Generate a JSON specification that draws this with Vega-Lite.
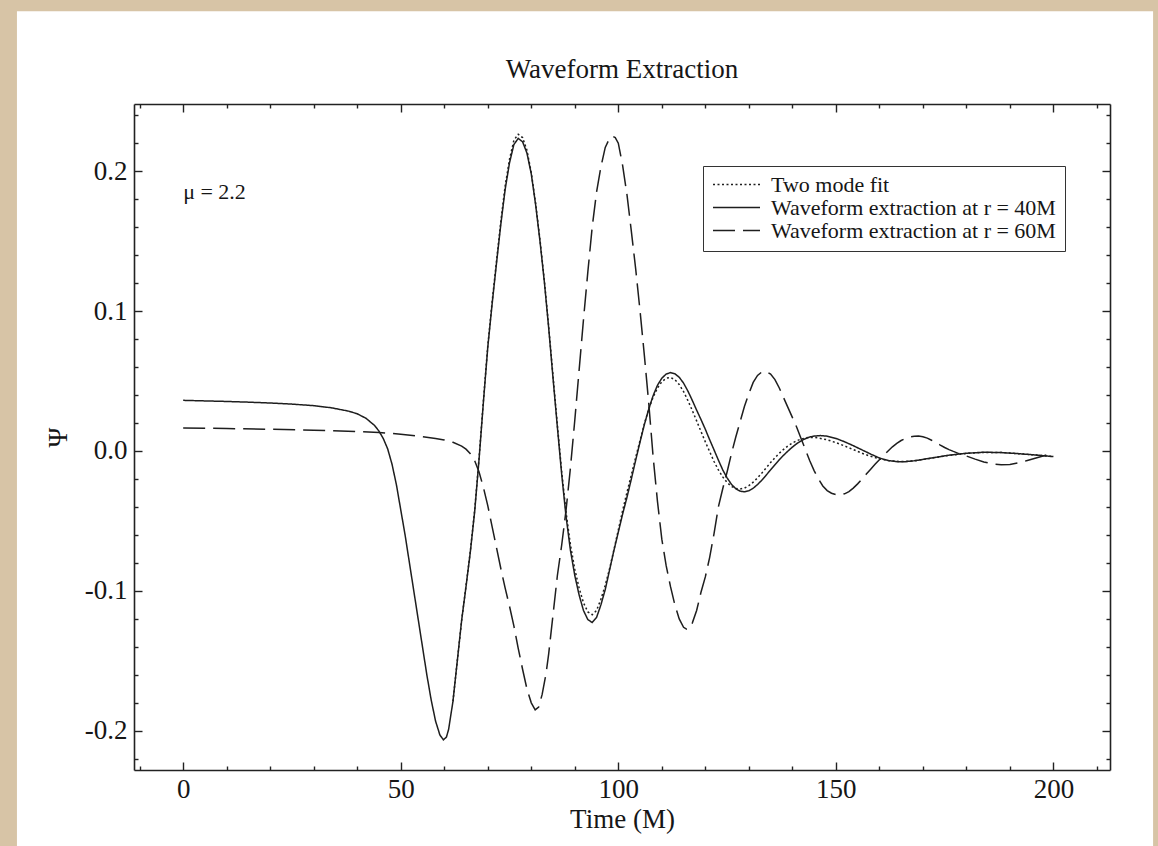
{
  "$schema": "https://vega.github.io/schema/vega-lite/v6.json",
  "width": 976,
  "height": 666,
  "autosize": {"type": "none"},
  "padding": {"left": 134, "top": 104, "right": 48, "bottom": 76},
  "background": "#d7c4a6",
  "title": {"text": "Waveform Extraction", "font": "Liberation Serif", "fontSize": 27, "fontWeight": "normal", "color": "#161616", "anchor": "middle", "frame": "group", "baseline": "alphabetic", "offset": -94},
  "config": {
    "view": {"stroke": null},
    "axis": {"zindex": 1, "grid": false, "domainColor": "#222222", "domainWidth": 1.6, "tickColor": "#222222", "tickWidth": 1.4, "labelFont": "Liberation Serif", "labelFontSize": 27, "labelColor": "#161616", "titleFont": "Liberation Serif", "titleFontSize": 27, "titleFontWeight": "normal", "titleColor": "#161616"},
    "legend": {"orient": "none", "legendX": 569, "legendY": 62, "symbolType": "stroke", "symbolSize": 2209, "symbolStrokeWidth": 1.5, "symbolStrokeColor": "#1e1e1e", "labelFont": "Liberation Serif", "labelFontSize": 22, "labelColor": "#161616", "labelOffset": 10, "labelLimit": 500, "padding": 9, "strokeColor": "#333333", "fillColor": "white", "rowPadding": 0, "clipHeight": 19}
  },
  "datasets": {
    "waves": [
      {"series": "Waveform extraction at r = 40M", "t": 0, "psi": 0.0362},
      {"series": "Waveform extraction at r = 40M", "t": 5, "psi": 0.0358},
      {"series": "Waveform extraction at r = 40M", "t": 10, "psi": 0.0354},
      {"series": "Waveform extraction at r = 40M", "t": 15, "psi": 0.0349},
      {"series": "Waveform extraction at r = 40M", "t": 20, "psi": 0.0343},
      {"series": "Waveform extraction at r = 40M", "t": 25, "psi": 0.0335},
      {"series": "Waveform extraction at r = 40M", "t": 30, "psi": 0.0324},
      {"series": "Waveform extraction at r = 40M", "t": 34, "psi": 0.0309},
      {"series": "Waveform extraction at r = 40M", "t": 38, "psi": 0.0285},
      {"series": "Waveform extraction at r = 40M", "t": 40, "psi": 0.0266},
      {"series": "Waveform extraction at r = 40M", "t": 42, "psi": 0.0234},
      {"series": "Waveform extraction at r = 40M", "t": 44, "psi": 0.0182},
      {"series": "Waveform extraction at r = 40M", "t": 45, "psi": 0.0142},
      {"series": "Waveform extraction at r = 40M", "t": 46, "psi": 0.0088},
      {"series": "Waveform extraction at r = 40M", "t": 47, "psi": 0.0015},
      {"series": "Waveform extraction at r = 40M", "t": 48, "psi": -0.0095},
      {"series": "Waveform extraction at r = 40M", "t": 49, "psi": -0.024},
      {"series": "Waveform extraction at r = 40M", "t": 50, "psi": -0.042},
      {"series": "Waveform extraction at r = 40M", "t": 51, "psi": -0.06},
      {"series": "Waveform extraction at r = 40M", "t": 52, "psi": -0.08},
      {"series": "Waveform extraction at r = 40M", "t": 53, "psi": -0.1},
      {"series": "Waveform extraction at r = 40M", "t": 54, "psi": -0.12},
      {"series": "Waveform extraction at r = 40M", "t": 55, "psi": -0.14},
      {"series": "Waveform extraction at r = 40M", "t": 56, "psi": -0.16},
      {"series": "Waveform extraction at r = 40M", "t": 57, "psi": -0.178},
      {"series": "Waveform extraction at r = 40M", "t": 58, "psi": -0.193},
      {"series": "Waveform extraction at r = 40M", "t": 59, "psi": -0.203},
      {"series": "Waveform extraction at r = 40M", "t": 59.8, "psi": -0.2064},
      {"series": "Waveform extraction at r = 40M", "t": 60.5, "psi": -0.2045},
      {"series": "Waveform extraction at r = 40M", "t": 61, "psi": -0.199},
      {"series": "Waveform extraction at r = 40M", "t": 62, "psi": -0.179},
      {"series": "Waveform extraction at r = 40M", "t": 63, "psi": -0.15},
      {"series": "Waveform extraction at r = 40M", "t": 64, "psi": -0.121},
      {"series": "Waveform extraction at r = 40M", "t": 65, "psi": -0.097},
      {"series": "Waveform extraction at r = 40M", "t": 66, "psi": -0.072},
      {"series": "Waveform extraction at r = 40M", "t": 67, "psi": -0.043},
      {"series": "Waveform extraction at r = 40M", "t": 68, "psi": -0.006},
      {"series": "Waveform extraction at r = 40M", "t": 69, "psi": 0.035},
      {"series": "Waveform extraction at r = 40M", "t": 70, "psi": 0.074},
      {"series": "Waveform extraction at r = 40M", "t": 71, "psi": 0.105},
      {"series": "Waveform extraction at r = 40M", "t": 72, "psi": 0.134},
      {"series": "Waveform extraction at r = 40M", "t": 73, "psi": 0.162},
      {"series": "Waveform extraction at r = 40M", "t": 74, "psi": 0.187},
      {"series": "Waveform extraction at r = 40M", "t": 75, "psi": 0.206},
      {"series": "Waveform extraction at r = 40M", "t": 76, "psi": 0.219},
      {"series": "Waveform extraction at r = 40M", "t": 77, "psi": 0.2234},
      {"series": "Waveform extraction at r = 40M", "t": 78, "psi": 0.221},
      {"series": "Waveform extraction at r = 40M", "t": 79, "psi": 0.213},
      {"series": "Waveform extraction at r = 40M", "t": 80, "psi": 0.198},
      {"series": "Waveform extraction at r = 40M", "t": 81, "psi": 0.176},
      {"series": "Waveform extraction at r = 40M", "t": 82, "psi": 0.15},
      {"series": "Waveform extraction at r = 40M", "t": 83, "psi": 0.121},
      {"series": "Waveform extraction at r = 40M", "t": 84, "psi": 0.088},
      {"series": "Waveform extraction at r = 40M", "t": 85, "psi": 0.052},
      {"series": "Waveform extraction at r = 40M", "t": 86, "psi": 0.017},
      {"series": "Waveform extraction at r = 40M", "t": 87, "psi": -0.017},
      {"series": "Waveform extraction at r = 40M", "t": 88, "psi": -0.047},
      {"series": "Waveform extraction at r = 40M", "t": 89, "psi": -0.071},
      {"series": "Waveform extraction at r = 40M", "t": 90, "psi": -0.089},
      {"series": "Waveform extraction at r = 40M", "t": 91, "psi": -0.103},
      {"series": "Waveform extraction at r = 40M", "t": 92, "psi": -0.114},
      {"series": "Waveform extraction at r = 40M", "t": 93, "psi": -0.1205},
      {"series": "Waveform extraction at r = 40M", "t": 94, "psi": -0.1226},
      {"series": "Waveform extraction at r = 40M", "t": 95, "psi": -0.119},
      {"series": "Waveform extraction at r = 40M", "t": 96, "psi": -0.11},
      {"series": "Waveform extraction at r = 40M", "t": 97, "psi": -0.099},
      {"series": "Waveform extraction at r = 40M", "t": 98, "psi": -0.085},
      {"series": "Waveform extraction at r = 40M", "t": 99, "psi": -0.071},
      {"series": "Waveform extraction at r = 40M", "t": 100, "psi": -0.058},
      {"series": "Waveform extraction at r = 40M", "t": 101, "psi": -0.045},
      {"series": "Waveform extraction at r = 40M", "t": 102, "psi": -0.033},
      {"series": "Waveform extraction at r = 40M", "t": 103, "psi": -0.02},
      {"series": "Waveform extraction at r = 40M", "t": 104, "psi": -0.0065},
      {"series": "Waveform extraction at r = 40M", "t": 105, "psi": 0.0065},
      {"series": "Waveform extraction at r = 40M", "t": 106, "psi": 0.019},
      {"series": "Waveform extraction at r = 40M", "t": 107, "psi": 0.03},
      {"series": "Waveform extraction at r = 40M", "t": 108, "psi": 0.0395},
      {"series": "Waveform extraction at r = 40M", "t": 109, "psi": 0.047},
      {"series": "Waveform extraction at r = 40M", "t": 110, "psi": 0.052},
      {"series": "Waveform extraction at r = 40M", "t": 111, "psi": 0.055},
      {"series": "Waveform extraction at r = 40M", "t": 112, "psi": 0.056},
      {"series": "Waveform extraction at r = 40M", "t": 113, "psi": 0.0552},
      {"series": "Waveform extraction at r = 40M", "t": 114, "psi": 0.0527},
      {"series": "Waveform extraction at r = 40M", "t": 115, "psi": 0.0485},
      {"series": "Waveform extraction at r = 40M", "t": 116, "psi": 0.0428},
      {"series": "Waveform extraction at r = 40M", "t": 117, "psi": 0.0362},
      {"series": "Waveform extraction at r = 40M", "t": 118, "psi": 0.0292},
      {"series": "Waveform extraction at r = 40M", "t": 119, "psi": 0.0225},
      {"series": "Waveform extraction at r = 40M", "t": 120, "psi": 0.0155},
      {"series": "Waveform extraction at r = 40M", "t": 121, "psi": 0.008},
      {"series": "Waveform extraction at r = 40M", "t": 122, "psi": 0.0008},
      {"series": "Waveform extraction at r = 40M", "t": 123, "psi": -0.0065},
      {"series": "Waveform extraction at r = 40M", "t": 124, "psi": -0.0135},
      {"series": "Waveform extraction at r = 40M", "t": 125, "psi": -0.0192},
      {"series": "Waveform extraction at r = 40M", "t": 126, "psi": -0.0238},
      {"series": "Waveform extraction at r = 40M", "t": 127, "psi": -0.027},
      {"series": "Waveform extraction at r = 40M", "t": 128, "psi": -0.0287},
      {"series": "Waveform extraction at r = 40M", "t": 129, "psi": -0.0292},
      {"series": "Waveform extraction at r = 40M", "t": 130, "psi": -0.0284},
      {"series": "Waveform extraction at r = 40M", "t": 131, "psi": -0.0266},
      {"series": "Waveform extraction at r = 40M", "t": 132, "psi": -0.024},
      {"series": "Waveform extraction at r = 40M", "t": 133, "psi": -0.0208},
      {"series": "Waveform extraction at r = 40M", "t": 134, "psi": -0.0172},
      {"series": "Waveform extraction at r = 40M", "t": 135, "psi": -0.0135},
      {"series": "Waveform extraction at r = 40M", "t": 136, "psi": -0.0098},
      {"series": "Waveform extraction at r = 40M", "t": 137, "psi": -0.0062},
      {"series": "Waveform extraction at r = 40M", "t": 138, "psi": -0.003},
      {"series": "Waveform extraction at r = 40M", "t": 139, "psi": 0.0},
      {"series": "Waveform extraction at r = 40M", "t": 140, "psi": 0.0028},
      {"series": "Waveform extraction at r = 40M", "t": 141, "psi": 0.0052},
      {"series": "Waveform extraction at r = 40M", "t": 142, "psi": 0.0072},
      {"series": "Waveform extraction at r = 40M", "t": 143, "psi": 0.0088},
      {"series": "Waveform extraction at r = 40M", "t": 144, "psi": 0.01},
      {"series": "Waveform extraction at r = 40M", "t": 145, "psi": 0.0107},
      {"series": "Waveform extraction at r = 40M", "t": 146.5, "psi": 0.011},
      {"series": "Waveform extraction at r = 40M", "t": 148, "psi": 0.0106},
      {"series": "Waveform extraction at r = 40M", "t": 150, "psi": 0.009},
      {"series": "Waveform extraction at r = 40M", "t": 152, "psi": 0.0066},
      {"series": "Waveform extraction at r = 40M", "t": 154, "psi": 0.0038},
      {"series": "Waveform extraction at r = 40M", "t": 156, "psi": 0.0008},
      {"series": "Waveform extraction at r = 40M", "t": 158, "psi": -0.0022},
      {"series": "Waveform extraction at r = 40M", "t": 160, "psi": -0.005},
      {"series": "Waveform extraction at r = 40M", "t": 162, "psi": -0.0068},
      {"series": "Waveform extraction at r = 40M", "t": 164, "psi": -0.0076},
      {"series": "Waveform extraction at r = 40M", "t": 166, "psi": -0.0076},
      {"series": "Waveform extraction at r = 40M", "t": 168, "psi": -0.007},
      {"series": "Waveform extraction at r = 40M", "t": 170, "psi": -0.006},
      {"series": "Waveform extraction at r = 40M", "t": 173, "psi": -0.0045},
      {"series": "Waveform extraction at r = 40M", "t": 176, "psi": -0.003},
      {"series": "Waveform extraction at r = 40M", "t": 180, "psi": -0.0016},
      {"series": "Waveform extraction at r = 40M", "t": 184, "psi": -0.0009},
      {"series": "Waveform extraction at r = 40M", "t": 188, "psi": -0.0011},
      {"series": "Waveform extraction at r = 40M", "t": 192, "psi": -0.0019},
      {"series": "Waveform extraction at r = 40M", "t": 196, "psi": -0.0029},
      {"series": "Waveform extraction at r = 40M", "t": 200, "psi": -0.004},

      {"series": "Waveform extraction at r = 60M", "t": 0, "psi": 0.0165},
      {"series": "Waveform extraction at r = 60M", "t": 10, "psi": 0.0161},
      {"series": "Waveform extraction at r = 60M", "t": 20, "psi": 0.0155},
      {"series": "Waveform extraction at r = 60M", "t": 30, "psi": 0.0148},
      {"series": "Waveform extraction at r = 60M", "t": 40, "psi": 0.0139},
      {"series": "Waveform extraction at r = 60M", "t": 45, "psi": 0.0132},
      {"series": "Waveform extraction at r = 60M", "t": 50, "psi": 0.012},
      {"series": "Waveform extraction at r = 60M", "t": 55, "psi": 0.0102},
      {"series": "Waveform extraction at r = 60M", "t": 58, "psi": 0.0089},
      {"series": "Waveform extraction at r = 60M", "t": 60, "psi": 0.0079},
      {"series": "Waveform extraction at r = 60M", "t": 62, "psi": 0.0062},
      {"series": "Waveform extraction at r = 60M", "t": 64, "psi": 0.0035},
      {"series": "Waveform extraction at r = 60M", "t": 65, "psi": 0.0013},
      {"series": "Waveform extraction at r = 60M", "t": 66, "psi": -0.002},
      {"series": "Waveform extraction at r = 60M", "t": 67, "psi": -0.007},
      {"series": "Waveform extraction at r = 60M", "t": 68, "psi": -0.015},
      {"series": "Waveform extraction at r = 60M", "t": 69, "psi": -0.026},
      {"series": "Waveform extraction at r = 60M", "t": 70, "psi": -0.039},
      {"series": "Waveform extraction at r = 60M", "t": 71, "psi": -0.054},
      {"series": "Waveform extraction at r = 60M", "t": 72, "psi": -0.069},
      {"series": "Waveform extraction at r = 60M", "t": 73, "psi": -0.084},
      {"series": "Waveform extraction at r = 60M", "t": 74, "psi": -0.098},
      {"series": "Waveform extraction at r = 60M", "t": 75, "psi": -0.111},
      {"series": "Waveform extraction at r = 60M", "t": 76, "psi": -0.125},
      {"series": "Waveform extraction at r = 60M", "t": 77, "psi": -0.141},
      {"series": "Waveform extraction at r = 60M", "t": 78, "psi": -0.156},
      {"series": "Waveform extraction at r = 60M", "t": 79, "psi": -0.17},
      {"series": "Waveform extraction at r = 60M", "t": 80, "psi": -0.18},
      {"series": "Waveform extraction at r = 60M", "t": 80.9, "psi": -0.185},
      {"series": "Waveform extraction at r = 60M", "t": 81.7, "psi": -0.183},
      {"series": "Waveform extraction at r = 60M", "t": 82.5, "psi": -0.174},
      {"series": "Waveform extraction at r = 60M", "t": 83.4, "psi": -0.159},
      {"series": "Waveform extraction at r = 60M", "t": 84, "psi": -0.145},
      {"series": "Waveform extraction at r = 60M", "t": 85, "psi": -0.117},
      {"series": "Waveform extraction at r = 60M", "t": 86, "psi": -0.089},
      {"series": "Waveform extraction at r = 60M", "t": 87, "psi": -0.067},
      {"series": "Waveform extraction at r = 60M", "t": 88, "psi": -0.042},
      {"series": "Waveform extraction at r = 60M", "t": 89, "psi": -0.012},
      {"series": "Waveform extraction at r = 60M", "t": 90, "psi": 0.022},
      {"series": "Waveform extraction at r = 60M", "t": 91, "psi": 0.058},
      {"series": "Waveform extraction at r = 60M", "t": 92, "psi": 0.094},
      {"series": "Waveform extraction at r = 60M", "t": 93, "psi": 0.128},
      {"series": "Waveform extraction at r = 60M", "t": 94, "psi": 0.16},
      {"series": "Waveform extraction at r = 60M", "t": 95, "psi": 0.185},
      {"series": "Waveform extraction at r = 60M", "t": 96, "psi": 0.203},
      {"series": "Waveform extraction at r = 60M", "t": 97, "psi": 0.217},
      {"series": "Waveform extraction at r = 60M", "t": 98, "psi": 0.2235},
      {"series": "Waveform extraction at r = 60M", "t": 98.6, "psi": 0.225},
      {"series": "Waveform extraction at r = 60M", "t": 99.3, "psi": 0.224},
      {"series": "Waveform extraction at r = 60M", "t": 100, "psi": 0.22},
      {"series": "Waveform extraction at r = 60M", "t": 101, "psi": 0.204},
      {"series": "Waveform extraction at r = 60M", "t": 102, "psi": 0.183},
      {"series": "Waveform extraction at r = 60M", "t": 103, "psi": 0.157},
      {"series": "Waveform extraction at r = 60M", "t": 104, "psi": 0.13},
      {"series": "Waveform extraction at r = 60M", "t": 105, "psi": 0.1},
      {"series": "Waveform extraction at r = 60M", "t": 106, "psi": 0.068},
      {"series": "Waveform extraction at r = 60M", "t": 107, "psi": 0.034},
      {"series": "Waveform extraction at r = 60M", "t": 108, "psi": -0.004},
      {"series": "Waveform extraction at r = 60M", "t": 109, "psi": -0.036},
      {"series": "Waveform extraction at r = 60M", "t": 110, "psi": -0.063},
      {"series": "Waveform extraction at r = 60M", "t": 111, "psi": -0.082},
      {"series": "Waveform extraction at r = 60M", "t": 112, "psi": -0.097},
      {"series": "Waveform extraction at r = 60M", "t": 113, "psi": -0.11},
      {"series": "Waveform extraction at r = 60M", "t": 114, "psi": -0.12},
      {"series": "Waveform extraction at r = 60M", "t": 115, "psi": -0.126},
      {"series": "Waveform extraction at r = 60M", "t": 115.7, "psi": -0.1274},
      {"series": "Waveform extraction at r = 60M", "t": 116.5, "psi": -0.126},
      {"series": "Waveform extraction at r = 60M", "t": 117, "psi": -0.123},
      {"series": "Waveform extraction at r = 60M", "t": 118, "psi": -0.114},
      {"series": "Waveform extraction at r = 60M", "t": 119, "psi": -0.101},
      {"series": "Waveform extraction at r = 60M", "t": 120, "psi": -0.09},
      {"series": "Waveform extraction at r = 60M", "t": 121, "psi": -0.076},
      {"series": "Waveform extraction at r = 60M", "t": 122, "psi": -0.059},
      {"series": "Waveform extraction at r = 60M", "t": 123, "psi": -0.04},
      {"series": "Waveform extraction at r = 60M", "t": 124, "psi": -0.027},
      {"series": "Waveform extraction at r = 60M", "t": 125, "psi": -0.015},
      {"series": "Waveform extraction at r = 60M", "t": 126, "psi": -0.002},
      {"series": "Waveform extraction at r = 60M", "t": 127, "psi": 0.01},
      {"series": "Waveform extraction at r = 60M", "t": 128, "psi": 0.021},
      {"series": "Waveform extraction at r = 60M", "t": 129, "psi": 0.032},
      {"series": "Waveform extraction at r = 60M", "t": 130, "psi": 0.041},
      {"series": "Waveform extraction at r = 60M", "t": 131, "psi": 0.049},
      {"series": "Waveform extraction at r = 60M", "t": 132, "psi": 0.054},
      {"series": "Waveform extraction at r = 60M", "t": 133, "psi": 0.0565},
      {"series": "Waveform extraction at r = 60M", "t": 133.8, "psi": 0.057},
      {"series": "Waveform extraction at r = 60M", "t": 135, "psi": 0.055},
      {"series": "Waveform extraction at r = 60M", "t": 136, "psi": 0.051},
      {"series": "Waveform extraction at r = 60M", "t": 137, "psi": 0.045},
      {"series": "Waveform extraction at r = 60M", "t": 138, "psi": 0.038},
      {"series": "Waveform extraction at r = 60M", "t": 139, "psi": 0.031},
      {"series": "Waveform extraction at r = 60M", "t": 140, "psi": 0.024},
      {"series": "Waveform extraction at r = 60M", "t": 141, "psi": 0.017},
      {"series": "Waveform extraction at r = 60M", "t": 142, "psi": 0.009},
      {"series": "Waveform extraction at r = 60M", "t": 143, "psi": 0.001},
      {"series": "Waveform extraction at r = 60M", "t": 144, "psi": -0.007},
      {"series": "Waveform extraction at r = 60M", "t": 145, "psi": -0.014},
      {"series": "Waveform extraction at r = 60M", "t": 146, "psi": -0.02},
      {"series": "Waveform extraction at r = 60M", "t": 147, "psi": -0.025},
      {"series": "Waveform extraction at r = 60M", "t": 148, "psi": -0.0283},
      {"series": "Waveform extraction at r = 60M", "t": 149, "psi": -0.0302},
      {"series": "Waveform extraction at r = 60M", "t": 150, "psi": -0.0312},
      {"series": "Waveform extraction at r = 60M", "t": 151, "psi": -0.0314},
      {"series": "Waveform extraction at r = 60M", "t": 152, "psi": -0.0306},
      {"series": "Waveform extraction at r = 60M", "t": 153, "psi": -0.029},
      {"series": "Waveform extraction at r = 60M", "t": 154, "psi": -0.0265},
      {"series": "Waveform extraction at r = 60M", "t": 155, "psi": -0.0235},
      {"series": "Waveform extraction at r = 60M", "t": 156, "psi": -0.02},
      {"series": "Waveform extraction at r = 60M", "t": 157, "psi": -0.0165},
      {"series": "Waveform extraction at r = 60M", "t": 158, "psi": -0.013},
      {"series": "Waveform extraction at r = 60M", "t": 159, "psi": -0.0095},
      {"series": "Waveform extraction at r = 60M", "t": 160, "psi": -0.0062},
      {"series": "Waveform extraction at r = 60M", "t": 161, "psi": -0.003},
      {"series": "Waveform extraction at r = 60M", "t": 162, "psi": 0.0},
      {"series": "Waveform extraction at r = 60M", "t": 163, "psi": 0.003},
      {"series": "Waveform extraction at r = 60M", "t": 164, "psi": 0.0055},
      {"series": "Waveform extraction at r = 60M", "t": 165, "psi": 0.0075},
      {"series": "Waveform extraction at r = 60M", "t": 166, "psi": 0.009},
      {"series": "Waveform extraction at r = 60M", "t": 167, "psi": 0.01},
      {"series": "Waveform extraction at r = 60M", "t": 168, "psi": 0.0106},
      {"series": "Waveform extraction at r = 60M", "t": 169, "psi": 0.0107},
      {"series": "Waveform extraction at r = 60M", "t": 170, "psi": 0.0102},
      {"series": "Waveform extraction at r = 60M", "t": 171, "psi": 0.0092},
      {"series": "Waveform extraction at r = 60M", "t": 172, "psi": 0.0077},
      {"series": "Waveform extraction at r = 60M", "t": 173, "psi": 0.006},
      {"series": "Waveform extraction at r = 60M", "t": 174, "psi": 0.0042},
      {"series": "Waveform extraction at r = 60M", "t": 175, "psi": 0.0025},
      {"series": "Waveform extraction at r = 60M", "t": 176, "psi": 0.001},
      {"series": "Waveform extraction at r = 60M", "t": 177, "psi": -0.0003},
      {"series": "Waveform extraction at r = 60M", "t": 178, "psi": -0.0015},
      {"series": "Waveform extraction at r = 60M", "t": 179, "psi": -0.0025},
      {"series": "Waveform extraction at r = 60M", "t": 180, "psi": -0.0036},
      {"series": "Waveform extraction at r = 60M", "t": 182, "psi": -0.0058},
      {"series": "Waveform extraction at r = 60M", "t": 184, "psi": -0.0078},
      {"series": "Waveform extraction at r = 60M", "t": 186, "psi": -0.0092},
      {"series": "Waveform extraction at r = 60M", "t": 188, "psi": -0.0099},
      {"series": "Waveform extraction at r = 60M", "t": 190, "psi": -0.0096},
      {"series": "Waveform extraction at r = 60M", "t": 192, "psi": -0.0085},
      {"series": "Waveform extraction at r = 60M", "t": 194, "psi": -0.0068},
      {"series": "Waveform extraction at r = 60M", "t": 196, "psi": -0.005},
      {"series": "Waveform extraction at r = 60M", "t": 198, "psi": -0.0032},
      {"series": "Waveform extraction at r = 60M", "t": 200, "psi": -0.0017},

      {"series": "Two mode fit", "t": 62, "psi": -0.179},
      {"series": "Two mode fit", "t": 63, "psi": -0.15},
      {"series": "Two mode fit", "t": 64, "psi": -0.121},
      {"series": "Two mode fit", "t": 65, "psi": -0.0965},
      {"series": "Two mode fit", "t": 66, "psi": -0.0715},
      {"series": "Two mode fit", "t": 67, "psi": -0.042},
      {"series": "Two mode fit", "t": 68, "psi": -0.005},
      {"series": "Two mode fit", "t": 69, "psi": 0.036},
      {"series": "Two mode fit", "t": 70, "psi": 0.075},
      {"series": "Two mode fit", "t": 71, "psi": 0.1065},
      {"series": "Two mode fit", "t": 72, "psi": 0.1355},
      {"series": "Two mode fit", "t": 73, "psi": 0.164},
      {"series": "Two mode fit", "t": 74, "psi": 0.1895},
      {"series": "Two mode fit", "t": 75, "psi": 0.2085},
      {"series": "Two mode fit", "t": 76, "psi": 0.222},
      {"series": "Two mode fit", "t": 77, "psi": 0.2264},
      {"series": "Two mode fit", "t": 78, "psi": 0.224},
      {"series": "Two mode fit", "t": 79, "psi": 0.215},
      {"series": "Two mode fit", "t": 80, "psi": 0.199},
      {"series": "Two mode fit", "t": 81, "psi": 0.177},
      {"series": "Two mode fit", "t": 82, "psi": 0.151},
      {"series": "Two mode fit", "t": 83, "psi": 0.122},
      {"series": "Two mode fit", "t": 84, "psi": 0.089},
      {"series": "Two mode fit", "t": 85, "psi": 0.0535},
      {"series": "Two mode fit", "t": 86, "psi": 0.0185},
      {"series": "Two mode fit", "t": 87, "psi": -0.015},
      {"series": "Two mode fit", "t": 88, "psi": -0.044},
      {"series": "Two mode fit", "t": 89, "psi": -0.067},
      {"series": "Two mode fit", "t": 90, "psi": -0.0845},
      {"series": "Two mode fit", "t": 91, "psi": -0.098},
      {"series": "Two mode fit", "t": 92, "psi": -0.1085},
      {"series": "Two mode fit", "t": 93, "psi": -0.115},
      {"series": "Two mode fit", "t": 94, "psi": -0.117},
      {"series": "Two mode fit", "t": 95, "psi": -0.114},
      {"series": "Two mode fit", "t": 96, "psi": -0.106},
      {"series": "Two mode fit", "t": 97, "psi": -0.096},
      {"series": "Two mode fit", "t": 98, "psi": -0.084},
      {"series": "Two mode fit", "t": 99, "psi": -0.0705},
      {"series": "Two mode fit", "t": 100, "psi": -0.0565},
      {"series": "Two mode fit", "t": 101, "psi": -0.0425},
      {"series": "Two mode fit", "t": 102, "psi": -0.0295},
      {"series": "Two mode fit", "t": 103, "psi": -0.017},
      {"series": "Two mode fit", "t": 104, "psi": -0.0045},
      {"series": "Two mode fit", "t": 105, "psi": 0.0075},
      {"series": "Two mode fit", "t": 106, "psi": 0.0195},
      {"series": "Two mode fit", "t": 107, "psi": 0.03},
      {"series": "Two mode fit", "t": 108, "psi": 0.0385},
      {"series": "Two mode fit", "t": 109, "psi": 0.045},
      {"series": "Two mode fit", "t": 110, "psi": 0.0495},
      {"series": "Two mode fit", "t": 111, "psi": 0.052},
      {"series": "Two mode fit", "t": 112, "psi": 0.0525},
      {"series": "Two mode fit", "t": 113, "psi": 0.051},
      {"series": "Two mode fit", "t": 114, "psi": 0.0475},
      {"series": "Two mode fit", "t": 115, "psi": 0.0425},
      {"series": "Two mode fit", "t": 116, "psi": 0.036},
      {"series": "Two mode fit", "t": 117, "psi": 0.029},
      {"series": "Two mode fit", "t": 118, "psi": 0.0215},
      {"series": "Two mode fit", "t": 119, "psi": 0.014},
      {"series": "Two mode fit", "t": 120, "psi": 0.0065},
      {"series": "Two mode fit", "t": 121, "psi": -0.0005},
      {"series": "Two mode fit", "t": 122, "psi": -0.0075},
      {"series": "Two mode fit", "t": 123, "psi": -0.0135},
      {"series": "Two mode fit", "t": 124, "psi": -0.0185},
      {"series": "Two mode fit", "t": 125, "psi": -0.0225},
      {"series": "Two mode fit", "t": 126, "psi": -0.0253},
      {"series": "Two mode fit", "t": 127, "psi": -0.0268},
      {"series": "Two mode fit", "t": 128, "psi": -0.0272},
      {"series": "Two mode fit", "t": 129, "psi": -0.0265},
      {"series": "Two mode fit", "t": 130, "psi": -0.0248},
      {"series": "Two mode fit", "t": 131, "psi": -0.0223},
      {"series": "Two mode fit", "t": 132, "psi": -0.0192},
      {"series": "Two mode fit", "t": 133, "psi": -0.0157},
      {"series": "Two mode fit", "t": 134, "psi": -0.012},
      {"series": "Two mode fit", "t": 135, "psi": -0.0083},
      {"series": "Two mode fit", "t": 136, "psi": -0.0048},
      {"series": "Two mode fit", "t": 137, "psi": -0.0016},
      {"series": "Two mode fit", "t": 138, "psi": 0.0012},
      {"series": "Two mode fit", "t": 139, "psi": 0.0037},
      {"series": "Two mode fit", "t": 140, "psi": 0.0057},
      {"series": "Two mode fit", "t": 141, "psi": 0.0073},
      {"series": "Two mode fit", "t": 142, "psi": 0.0085},
      {"series": "Two mode fit", "t": 143, "psi": 0.0093},
      {"series": "Two mode fit", "t": 144, "psi": 0.0097},
      {"series": "Two mode fit", "t": 145, "psi": 0.0097},
      {"series": "Two mode fit", "t": 146, "psi": 0.0093},
      {"series": "Two mode fit", "t": 148, "psi": 0.008},
      {"series": "Two mode fit", "t": 150, "psi": 0.006},
      {"series": "Two mode fit", "t": 152, "psi": 0.0036},
      {"series": "Two mode fit", "t": 154, "psi": 0.001},
      {"series": "Two mode fit", "t": 156, "psi": -0.0016},
      {"series": "Two mode fit", "t": 158, "psi": -0.0038},
      {"series": "Two mode fit", "t": 160, "psi": -0.0056},
      {"series": "Two mode fit", "t": 162, "psi": -0.0068},
      {"series": "Two mode fit", "t": 164, "psi": -0.0074},
      {"series": "Two mode fit", "t": 166, "psi": -0.0075},
      {"series": "Two mode fit", "t": 168, "psi": -0.007},
      {"series": "Two mode fit", "t": 170, "psi": -0.0061},
      {"series": "Two mode fit", "t": 173, "psi": -0.0046},
      {"series": "Two mode fit", "t": 176, "psi": -0.0031},
      {"series": "Two mode fit", "t": 180, "psi": -0.0017},
      {"series": "Two mode fit", "t": 184, "psi": -0.001},
      {"series": "Two mode fit", "t": 188, "psi": -0.0011},
      {"series": "Two mode fit", "t": 192, "psi": -0.0019},
      {"series": "Two mode fit", "t": 196, "psi": -0.0029},
      {"series": "Two mode fit", "t": 200, "psi": -0.004}
    ]
  },
  "layer": [
    {
      "data": {"values": [{}]},
      "mark": {"type": "rect", "color": "white", "clip": false},
      "encoding": {
        "x": {"datum": -38.2, "type": "quantitative", "scale": {"domain": [-11.3, 213], "nice": false, "zero": false}, "axis": null},
        "x2": {"datum": 222.9},
        "y": {"datum": 0.3143, "type": "quantitative", "scale": {"domain": [-0.228, 0.248], "nice": false, "zero": false}, "axis": null},
        "y2": {"datum": -0.3}
      }
    },
    {
      "data": {"name": "waves"},
      "mark": {"type": "line", "strokeWidth": 1.5, "color": "#1e1e1e"},
      "encoding": {
        "x": {"field": "t", "type": "quantitative", "scale": {"domain": [-11.3, 213], "nice": false, "zero": false},
          "axis": {"orient": "bottom", "zindex": 2, "values": [0, 50, 100, 150, 200], "format": "d", "tickSize": -8, "labelPadding": 14, "title": "Time (M)", "titlePadding": 4, "domain": true}},
        "y": {"field": "psi", "type": "quantitative", "scale": {"domain": [-0.228, 0.248], "nice": false, "zero": false},
          "axis": {"orient": "left", "zindex": 2, "values": [-0.2, -0.1, 0, 0.1, 0.2], "labelExpr": "replace(format(datum.value, '.1f'), '\u2212', '-')", "tickSize": -8, "labelPadding": 15, "title": "Ψ", "titlePadding": 12, "domain": true}},
        "strokeDash": {"field": "series", "type": "nominal",
          "scale": {"domain": ["Two mode fit", "Waveform extraction at r = 40M", "Waveform extraction at r = 60M"], "range": [[2, 2.5], [1, 0], [22, 8]]},
          "legend": {"title": null}}
      }
    },
    {
      "data": {"values": [{}]},
      "mark": {"type": "text", "text": "μ = 2.2", "font": "Liberation Serif", "fontSize": 22, "align": "left", "baseline": "alphabetic", "color": "#161616"},
      "encoding": {
        "x": {"datum": 0, "type": "quantitative", "scale": {"domain": [-11.3, 213], "nice": false, "zero": false},
          "axis": {"orient": "bottom", "zindex": 2, "values": [-10, 10, 20, 30, 40, 60, 70, 80, 90, 110, 120, 130, 140, 160, 170, 180, 190, 210], "tickSize": -4, "labels": false, "domain": false, "title": null}},
        "y": {"datum": 0.18, "type": "quantitative", "scale": {"domain": [-0.228, 0.248], "nice": false, "zero": false},
          "axis": {"orient": "left", "zindex": 2, "values": [-0.22, -0.18, -0.16, -0.14, -0.12, -0.08, -0.06, -0.04, -0.02, 0.02, 0.04, 0.06, 0.08, 0.12, 0.14, 0.16, 0.18, 0.22, 0.24], "tickSize": -4, "labels": false, "domain": false, "title": null}}
      }
    },
    {
      "data": {"values": [{}]},
      "mark": {"type": "text", "text": ""},
      "encoding": {
        "x": {"datum": 100, "type": "quantitative", "scale": {"domain": [-11.3, 213], "nice": false, "zero": false},
          "axis": {"orient": "top", "zindex": 2, "values": [0, 50, 100, 150, 200], "tickSize": -8, "labels": false, "domain": true, "title": null}},
        "y": {"datum": 0, "type": "quantitative", "scale": {"domain": [-0.228, 0.248], "nice": false, "zero": false},
          "axis": {"orient": "right", "zindex": 2, "values": [-0.2, -0.1, 0, 0.1, 0.2], "tickSize": -8, "labels": false, "domain": true, "title": null}}
      }
    },
    {
      "data": {"values": [{}]},
      "mark": {"type": "text", "text": ""},
      "encoding": {
        "x": {"datum": 100, "type": "quantitative", "scale": {"domain": [-11.3, 213], "nice": false, "zero": false},
          "axis": {"orient": "top", "zindex": 2, "values": [-10, 10, 20, 30, 40, 60, 70, 80, 90, 110, 120, 130, 140, 160, 170, 180, 190, 210], "tickSize": -4, "labels": false, "domain": false, "title": null}},
        "y": {"datum": 0, "type": "quantitative", "scale": {"domain": [-0.228, 0.248], "nice": false, "zero": false},
          "axis": {"orient": "right", "zindex": 2, "values": [-0.22, -0.18, -0.16, -0.14, -0.12, -0.08, -0.06, -0.04, -0.02, 0.02, 0.04, 0.06, 0.08, 0.12, 0.14, 0.16, 0.18, 0.22, 0.24], "tickSize": -4, "labels": false, "domain": false, "title": null}}
      }
    }
  ],
  "resolve": {"axis": {"x": "independent", "y": "independent"}}
}
